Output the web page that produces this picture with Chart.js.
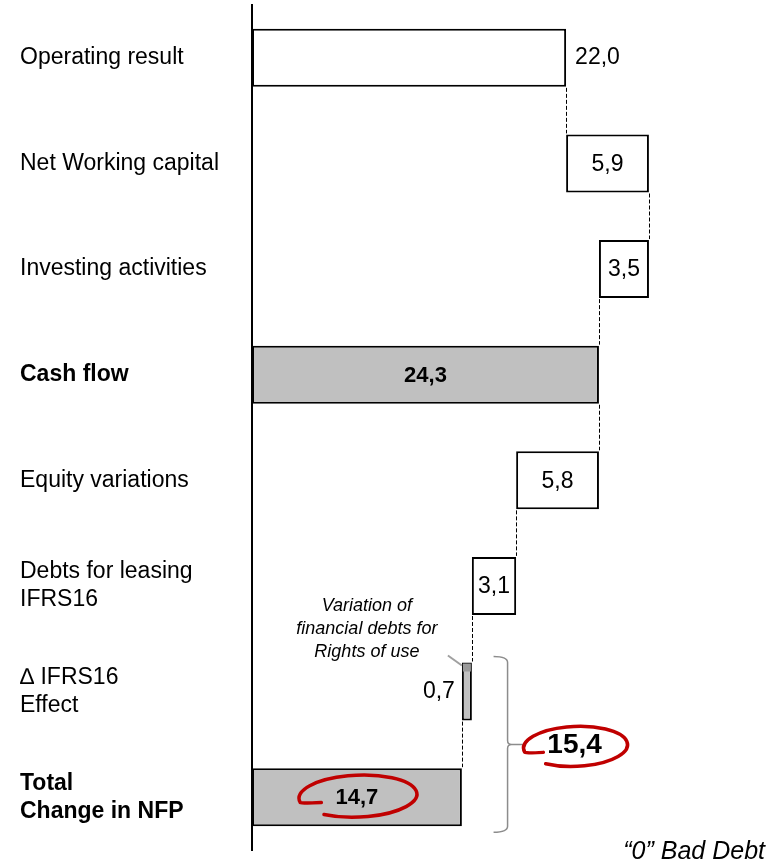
<!DOCTYPE html>
<html>
<head>
<meta charset="utf-8">
<script src="https://cdn.jsdelivr.net/npm/chart.js@4"></script>
<style>
    body { margin: 0; background: #fff; }
    #wrap { width: 774px; height: 864px; }
</style>
</head>
<body>
<div id="wrap"><canvas id="nfpChart" width="774" height="864"></canvas></div>
<script>
// Categories (multi-line labels as arrays)
const categories = [
    ['Operating result'],
    ['Net Working capital'],
    ['Investing activities'],
    ['Cash flow'],
    ['Equity variations'],
    ['Debts for leasing', 'IFRS16'],
    ['\u2206 IFRS16', 'Effect'],
    ['Total', 'Change in NFP']
];
// Waterfall bar bounds (start / end)
const barFrom = [0, 22.0, 24.3, 0, 18.5, 15.4, 14.7, 0];
const barTo = [22.0, 27.8, 27.8, 24.3, 24.3, 18.5, 15.4, 14.7];
// Printed values
const valueLabels = ['22,0', '5,9', '3,5', '24,3', '5,8', '3,1', '0,7', '14,7'];
const totalRows = [3, 7];  // grey, bold rows
const effectRow = 6;       // small grey IFRS16 bar
const bracketValue = '15,4';
const calloutLines = ['Variation of', 'financial debts for', 'Rights of use'];
const footNote = '\u201C0\u201D Bad Debt';

const FONT = "'Liberation Sans', Arial, sans-serif";

// Build floating bar data from the arrays
const barData = barFrom.map((v, i) => [v, barTo[i]]);
const barColors = barFrom.map((v, i) => (totalRows.includes(i) || i === effectRow) ? '#c0c0c0' : '#ffffff');

// Draw value labels, dashed connectors and the annotations
const annotationsPlugin = {
    id: 'annotations',
    afterDatasetsDraw(chart) {
        const ctx = chart.ctx;
        const bars = chart.getDatasetMeta(0).data;
        const rect = i => {
            const b = bars[i];
            return {
                left: Math.min(b.x, b.base), right: Math.max(b.x, b.base),
                top: b.y - b.height / 2, bottom: b.y + b.height / 2, cy: b.y
            };
        };
        const xs = chart.scales.x;

        ctx.save();

        // dashed connectors between consecutive bars
        ctx.strokeStyle = '#000';
        ctx.lineWidth = 1;
        ctx.setLineDash([4, 2]);
        for (let i = 0; i < bars.length - 1; i++) {
            const ends = [barFrom[i], barTo[i]];
            const next = [barFrom[i + 1], barTo[i + 1]];
            let shared = ends.find(e => next.some(n => Math.abs(n - e) < 0.05));
            if (shared === undefined) continue;
            const px = Math.round(xs.getPixelForValue(shared)) + 0.5;
            ctx.beginPath();
            ctx.moveTo(px, rect(i).bottom + 1);
            ctx.lineTo(px, rect(i + 1).top - 1);
            ctx.stroke();
        }
        ctx.setLineDash([]);

        // darker top of the IFRS16 effect bar
        const ef = rect(effectRow);
        ctx.fillStyle = '#9a9a9a';
        ctx.fillRect(ef.left + 1, ef.top + 1, ef.right - ef.left - 2, 8);

        // value labels
        ctx.fillStyle = '#000';
        ctx.textBaseline = 'middle';
        valueLabels.forEach((txt, i) => {
            const r = rect(i);
            const bold = totalRows.includes(i);
            ctx.font = (bold ? 'bold 22px ' : '23px ') + FONT;
            if (i === 0) {
                ctx.textAlign = 'left';
                ctx.fillText(txt, r.right + 9, r.cy);
            } else if (i === effectRow) {
                ctx.textAlign = 'right';
                ctx.fillText(txt, r.left - 7, r.cy);
            } else {
                ctx.textAlign = 'center';
                ctx.fillText(txt, (r.left + r.right) / 2, r.cy + 1);
            }
        });

        // callout text above the effect bar
        ctx.font = 'italic 18px ' + FONT;
        ctx.textAlign = 'center';
        calloutLines.forEach((ln, k) => {
            ctx.fillText(ln, ef.left - 95, ef.top - 57 + k * 23);
        });
        ctx.strokeStyle = '#a0a0a0';
        ctx.lineWidth = 2;
        ctx.beginPath();
        ctx.moveTo(ef.left - 14, ef.top - 7);
        ctx.lineTo(ef.left, ef.top + 3);
        ctx.stroke();

        // bracket around the last two rows
        const tot = rect(7);
        const bx = xs.getPixelForValue(17.9);
        const bTop = ef.top - 6, bBot = tot.bottom + 6;
        const bMid = (bTop + bBot) / 2;
        ctx.strokeStyle = '#8c8c8c';
        ctx.lineWidth = 1.5;
        ctx.beginPath();
        ctx.moveTo(bx - 14, bTop);
        ctx.quadraticCurveTo(bx, bTop, bx, bTop + 6);
        ctx.lineTo(bx, bMid - 4);
        ctx.quadraticCurveTo(bx, bMid, bx + 4, bMid);
        ctx.lineTo(bx + 16, bMid);
        ctx.moveTo(bx + 4, bMid);
        ctx.quadraticCurveTo(bx, bMid, bx, bMid + 4);
        ctx.lineTo(bx, bBot - 6);
        ctx.quadraticCurveTo(bx, bBot, bx - 14, bBot);
        ctx.stroke();

        // hand drawn red ellipses
        const redRing = (cx, cy, rx, ry) => {
            ctx.strokeStyle = '#c00000';
            ctx.lineWidth = 3.5;
            ctx.lineCap = 'round';
            ctx.beginPath();
            ctx.ellipse(cx, cy, rx, ry, -0.04, 0.7 * Math.PI, -1.06 * Math.PI, true);
            ctx.quadraticCurveTo(cx - rx * 0.95, cy + ry * 0.35, cx - rx * 0.62, cy + ry * 0.3);
            ctx.stroke();
        };
        const labelX = bx + 67;
        ctx.fillStyle = '#000';
        ctx.font = 'bold 28px ' + FONT;
        ctx.textAlign = 'center';
        ctx.fillText(bracketValue, labelX, bMid + 1);
        redRing(labelX + 1, bMid + 2, 52, 20);
        redRing((tot.left + tot.right) / 2 + 1, tot.cy - 1, 59, 21);

        // footnote
        ctx.fillStyle = '#000';
        ctx.font = 'italic 25px ' + FONT;
        ctx.textAlign = 'right';
        ctx.textBaseline = 'alphabetic';
        ctx.fillText(footNote, 765, 859);

        ctx.restore();
    }
};

const nfpChart = new Chart(document.getElementById('nfpChart').getContext('2d'), {
    type: 'bar',
    data: {
        labels: categories,
        datasets: [{
            data: barData,
            backgroundColor: barColors,
            borderColor: '#000',
            borderWidth: 2,
            borderSkipped: false,
            barPercentage: 0.55,
            categoryPercentage: 1.0
        }]
    },
    options: {
        indexAxis: 'y',
        responsive: false,
        animation: false,
        devicePixelRatio: 1,
        layout: { padding: { top: 5, bottom: 14, left: 20, right: 8 } },
        plugins: {
            legend: { display: false },
            tooltip: { enabled: false }
        },
        scales: {
            x: { display: false, min: 0, max: 36 },
            y: {
                grid: { display: false, drawTicks: false },
                border: { display: true, color: '#000', width: 2 },
                afterFit: scale => {
                    scale.width = 232;
                    scale.paddingTop = 0;
                    scale.paddingBottom = 0;
                },
                ticks: {
                    crossAlign: 'far',
                    color: '#000',
                    padding: 0,
                    font: ctx => ({
                        family: FONT,
                        size: 23,
                        lineHeight: 1.22,
                        weight: totalRows.includes(ctx.index) ? 'bold' : 'normal'
                    })
                }
            }
        }
    },
    plugins: [annotationsPlugin]
});
</script>
</body>
</html>
